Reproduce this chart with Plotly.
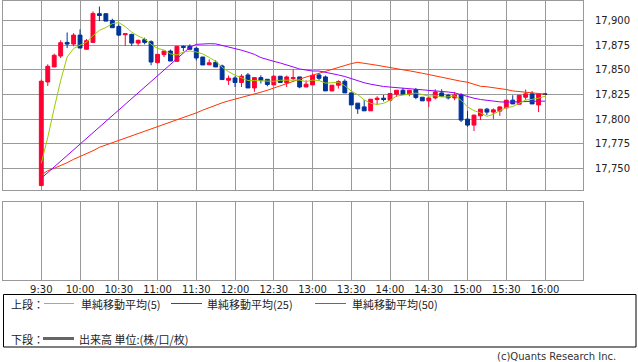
import plotly.graph_objects as go

# ---------------- data ----------------
opens = [17732.5, 17837.6, 17852.8, 17863.9, 17877.7, 17876.0, 17885.1, 17870.7, 17877.7, 17906.8,
         17906.8, 17900.0, 17893.9, 17885.5, 17885.8, 17877.0, 17880.5, 17878.4, 17857.2, 17865.3,
         17868.9, 17858.5, 17873.7, 17873.7, 17871.7, 17862.9, 17855.0, 17857.5, 17853.8, 17839.3,
         17841.6, 17837.0, 17844.7, 17831.5, 17842.0, 17840.3, 17834.6, 17843.4, 17836.6, 17841.0,
         17842.7, 17832.5, 17834.6, 17844.7, 17842.7, 17828.5, 17834.3, 17838.3, 17826.5, 17816.1,
         17812.3, 17808.3, 17819.8, 17821.1, 17819.1, 17825.2, 17829.2, 17825.2, 17829.9, 17822.1,
         17818.4, 17821.4, 17826.5, 17824.1, 17821.4, 17824.9, 17799.9, 17793.8, 17803.2, 17810.0,
         17807.0, 17808.0, 17811.3, 17819.1, 17815.0, 17822.1, 17825.5, 17814.3, 17825.5]
highs = [17840.0, 17855.5, 17866.3, 17879.8, 17887.8, 17887.1, 17890.9, 17881.1, 17909.1, 17914.1,
         17907.1, 17901.7, 17895.9, 17886.5, 17886.5, 17880.5, 17882.5, 17879.8, 17865.6, 17868.9,
         17870.4, 17873.7, 17874.7, 17875.7, 17873.0, 17862.9, 17860.5, 17859.5, 17855.2, 17844.1,
         17843.4, 17845.4, 17846.7, 17842.0, 17844.4, 17840.3, 17844.4, 17843.4, 17844.1, 17850.4,
         17842.7, 17839.3, 17846.1, 17846.7, 17844.1, 17834.3, 17839.3, 17840.3, 17826.5, 17816.1,
         17819.1, 17820.1, 17823.1, 17824.4, 17825.9, 17829.2, 17831.5, 17829.2, 17831.5, 17822.1,
         17821.4, 17830.2, 17830.2, 17825.5, 17827.5, 17826.2, 17808.3, 17804.6, 17810.0, 17811.3,
         17810.7, 17813.0, 17819.1, 17824.1, 17824.1, 17829.9, 17828.2, 17825.5, 17825.5]
lows = [17732.0, 17833.6, 17852.8, 17861.9, 17872.0, 17873.7, 17872.0, 17870.7, 17877.7, 17899.3,
        17899.3, 17892.6, 17884.1, 17874.0, 17874.0, 17874.0, 17875.7, 17854.5, 17856.2, 17862.9,
        17858.8, 17858.5, 17868.9, 17870.7, 17859.5, 17854.8, 17855.0, 17852.8, 17840.0, 17834.6,
        17832.5, 17832.5, 17831.5, 17827.5, 17836.0, 17833.2, 17834.6, 17837.0, 17832.5, 17839.3,
        17831.2, 17832.5, 17834.6, 17839.3, 17828.5, 17828.5, 17830.9, 17826.5, 17814.3, 17805.2,
        17808.3, 17808.3, 17814.3, 17817.8, 17819.1, 17822.4, 17825.2, 17823.1, 17820.1, 17818.4,
        17812.3, 17819.8, 17823.1, 17819.8, 17819.1, 17796.9, 17792.1, 17787.8, 17798.9, 17803.9,
        17799.9, 17803.2, 17811.3, 17815.3, 17815.0, 17819.1, 17815.3, 17807.0, 17825.0]
closes = [17838.3, 17853.5, 17864.6, 17877.4, 17876.0, 17885.1, 17872.0, 17879.5, 17907.1, 17905.0,
          17899.3, 17892.6, 17885.1, 17886.5, 17877.0, 17879.8, 17877.7, 17857.8, 17865.6, 17868.9,
          17858.8, 17873.7, 17872.7, 17870.7, 17861.9, 17854.8, 17857.0, 17852.8, 17840.0, 17841.3,
          17837.0, 17843.4, 17831.5, 17842.0, 17839.3, 17835.0, 17843.4, 17837.0, 17842.7, 17842.0,
          17832.5, 17835.3, 17844.4, 17841.3, 17828.5, 17834.3, 17838.0, 17826.5, 17814.3, 17810.3,
          17808.3, 17820.1, 17821.1, 17819.8, 17825.9, 17829.2, 17825.2, 17829.2, 17821.8, 17818.4,
          17821.4, 17827.5, 17823.1, 17821.4, 17824.4, 17798.9, 17793.8, 17803.9, 17810.0, 17807.0,
          17809.3, 17812.3, 17819.1, 17815.3, 17824.1, 17825.5, 17815.3, 17825.5, 17825.0]

ma5 = [17755.1, 17781.4, 17811.0, 17839.0, 17862.9, 17871.5, 17875.0, 17878.0, 17884.5, 17890.0,
       17892.8, 17896.7, 17897.8, 17893.7, 17888.1, 17884.2, 17881.2, 17875.8, 17871.6, 17870.0,
       17866.0, 17865.0, 17868.0, 17869.0, 17868.0, 17866.0, 17862.5, 17858.5, 17852.5, 17848.0,
       17844.5, 17842.0, 17839.0, 17839.0, 17838.6, 17838.2, 17838.2, 17839.3, 17839.5, 17840.0,
       17839.5, 17837.9, 17839.4, 17839.1, 17836.4, 17836.8, 17837.3, 17833.7, 17828.3, 17824.7,
       17819.5, 17815.9, 17814.8, 17815.9, 17819.0, 17823.2, 17824.2, 17825.9, 17826.3, 17824.8,
       17823.2, 17823.7, 17822.4, 17822.4, 17823.6, 17819.1, 17812.3, 17808.5, 17806.2, 17802.7,
       17804.8, 17808.5, 17811.5, 17812.6, 17816.0, 17819.3, 17819.9, 17821.1, 17823.1]
ma25 = [17739.9, 17745.7, 17751.6, 17757.3, 17763.2, 17768.9, 17774.8, 17780.6, 17786.4, 17792.2,
        17798.1, 17803.8, 17809.7, 17815.4, 17821.3, 17827.1, 17832.9, 17838.7, 17844.6, 17850.3,
        17856.2, 17862.0, 17867.6, 17872.7, 17875.7, 17876.4, 17876.4, 17876.2, 17874.7, 17873.0,
        17871.4, 17869.8, 17867.8, 17865.6, 17862.3, 17860.2, 17858.5, 17856.8, 17854.5, 17852.8,
        17850.7, 17849.4, 17848.7, 17848.7, 17847.6, 17846.1, 17844.7, 17843.1, 17841.0, 17838.6,
        17836.8, 17835.3, 17833.9, 17833.0, 17832.4, 17831.9, 17831.4, 17830.7, 17830.0, 17829.6,
        17829.2, 17828.7, 17828.2, 17827.4, 17826.5, 17824.6, 17822.6, 17821.1, 17819.8, 17818.8,
        17817.8, 17817.4, 17817.1, 17817.4, 17817.8, 17817.8, 17818.1, 17818.1, 17818.1]
ma50 = [17743.3, 17747.6, 17750.0, 17752.7, 17755.7, 17759.1, 17761.8, 17764.5, 17767.8, 17771.3,
        17773.6, 17775.9, 17778.3, 17780.7, 17783.0, 17785.4, 17787.4, 17789.8, 17791.8, 17794.1,
        17796.5, 17798.9, 17801.2, 17803.9, 17806.2, 17809.0, 17811.7, 17814.0, 17816.4, 17818.4,
        17820.1, 17821.8, 17823.1, 17825.2, 17827.2, 17829.2, 17831.5, 17833.5, 17836.0, 17838.3,
        17840.3, 17842.6, 17844.4, 17846.4, 17848.1, 17850.1, 17851.7, 17853.8, 17856.2, 17857.5,
        17856.8, 17855.5, 17854.5, 17853.2, 17852.1, 17851.1, 17849.9, 17848.9, 17847.9, 17846.4,
        17845.1, 17843.7, 17842.3, 17840.8, 17839.3, 17838.3, 17837.3, 17835.3, 17833.2, 17832.7,
        17831.9, 17831.2, 17829.9, 17828.5, 17827.9, 17827.2, 17826.9, 17826.2, 17825.2]

tick_labels = ["9:30", "10:00", "10:30", "11:00", "11:30", "12:00", "12:30",
               "13:00", "13:30", "14:00", "14:30", "15:00", "15:30", "16:00"]
price_ticks = [17750, 17775, 17800, 17825, 17850, 17875, 17900]

legend_upper = ["単純移動平均(5)", "単純移動平均(25)", "単純移動平均(50)"]
legend_lower = "出来高 単位:(株/口/枚)"
copyright_text = "(c)Quants Research Inc."

# ---------------- styling ----------------
W, H = 638, 362
RED, BLUE = "#ff0033", "#003399"
C_MA5, C_MA25, C_MA50 = "#99cc00", "#9900ff", "#ff3300"
GRID = "#999999"
FONT = "DejaVu Sans"
JFONT = "Noto Sans CJK JP"

def fx(px):
    return px / W

def fy(px):
    return 1 - px / H

idx = list(range(len(opens)))
tick_pos = [6 * i for i in range(len(tick_labels))]
x_range = [-5.93, 83.88]

fig = go.Figure()
fig.add_trace(go.Candlestick(
    x=idx, open=opens, high=highs, low=lows, close=closes,
    increasing=dict(line=dict(color=RED, width=1), fillcolor=RED),
    decreasing=dict(line=dict(color=BLUE, width=1), fillcolor=BLUE),
    whiskerwidth=0, showlegend=False, hoverinfo="skip",
    xaxis="x", yaxis="y"))
for vals, col in [(ma50, C_MA50), (ma25, C_MA25), (ma5, C_MA5)]:
    fig.add_trace(go.Scatter(x=idx, y=vals, mode="lines",
                             line=dict(color=col, width=1),
                             showlegend=False, hoverinfo="skip",
                             xaxis="x", yaxis="y"))
fig.add_trace(go.Scatter(x=[], y=[], xaxis="x2", yaxis="y2", showlegend=False))

axis_common = dict(showline=True, mirror=True, linecolor=GRID, linewidth=1,
                   gridcolor=GRID, gridwidth=1, zeroline=False, fixedrange=True)

fig.update_layout(
    width=W, height=H,
    margin=dict(l=0, r=0, t=0, b=0),
    paper_bgcolor="white", plot_bgcolor="white",
    hovermode=False, showlegend=False,
    boxgap=0.4, boxgroupgap=0,
    xaxis=dict(domain=[fx(3), fx(583)], range=x_range, tickvals=tick_pos,
               showticklabels=False, showgrid=True, anchor="y",
               rangeslider=dict(visible=False), **axis_common),
    yaxis=dict(domain=[fy(190), fy(0.5)], range=[17728.0, 17920.2],
               tickvals=price_ticks, tickformat=",", side="right",
               showgrid=True, ticks="", ticklabelstandoff=9,
               tickfont=dict(family=FONT, size=10, color="#222"),
               anchor="x", **axis_common),
    xaxis2=dict(domain=[fx(3), fx(583)], range=x_range, tickvals=tick_pos,
                ticktext=tick_labels, showgrid=True, ticks="",
                tickfont=dict(family=FONT, size=10, color="#222"),
                anchor="y2", **axis_common),
    yaxis2=dict(domain=[fy(280), fy(202)], range=[0, 1], showgrid=False,
                showticklabels=False, ticks="", anchor="x2", **axis_common),
)

shapes = [dict(type="rect", xref="paper", yref="paper",
               x0=fx(3.5), x1=fx(636), y0=fy(347), y1=fy(294.5),
               line=dict(color="black", width=1))]
leg_line_x = [(44, 74), (171, 202), (315, 346)]
leg_text_x = [79, 205, 350]
for (a, b), col in zip(leg_line_x, [C_MA5, C_MA25, C_MA50]):
    shapes.append(dict(type="line", xref="paper", yref="paper",
                       x0=fx(a), x1=fx(b), y0=fy(303.5), y1=fy(303.5),
                       line=dict(color=col, width=1)))
shapes.append(dict(type="line", xref="paper", yref="paper",
                   x0=fx(43), x1=fx(74), y0=fy(338.5), y1=fy(338.5),
                   line=dict(color="#666666", width=3)))

annotations = [dict(text="上段：", x=fx(9), y=fy(303.5), xref="paper", yref="paper",
                    xanchor="left", yanchor="middle", showarrow=False,
                    font=dict(family=JFONT, size=11, color="#222")),
               dict(text="下段：", x=fx(9), y=fy(338.5), xref="paper", yref="paper",
                    xanchor="left", yanchor="middle", showarrow=False,
                    font=dict(family=JFONT, size=11, color="#222")),
               dict(text=legend_lower, x=fx(77), y=fy(338.5), xref="paper", yref="paper",
                    xanchor="left", yanchor="middle", showarrow=False,
                    font=dict(family=JFONT, size=11, color="#222")),
               dict(text=copyright_text, x=fx(618), y=fy(356), xref="paper", yref="paper",
                    xanchor="right", yanchor="middle", showarrow=False,
                    font=dict(family=FONT, size=10, color="#333"))]
for t, xp in zip(legend_upper, leg_text_x):
    annotations.append(dict(text=t, x=fx(xp), y=fy(303.5), xref="paper", yref="paper",
                            xanchor="left", yanchor="middle", showarrow=False,
                            font=dict(family=JFONT, size=11, color="#222")))

fig.update_layout(shapes=shapes, annotations=annotations)
fig.write_html("out.html", config={"displayModeBar": False},
               post_script="document.body.style.margin='0px';document.body.style.overflow='hidden';")
